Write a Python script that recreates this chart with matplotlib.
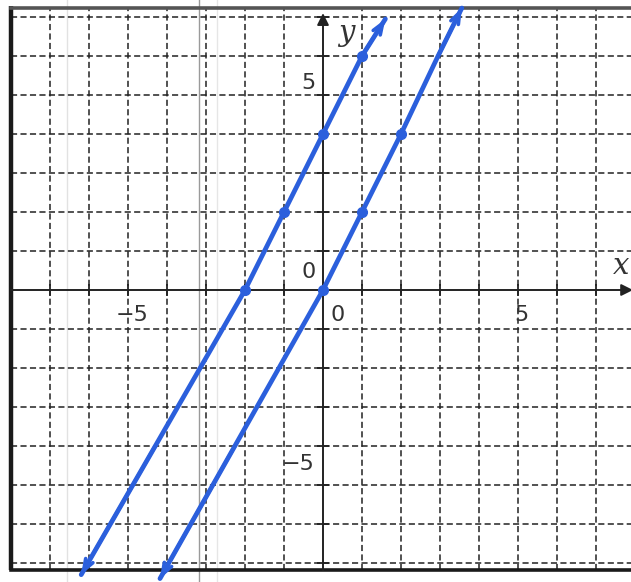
import numpy as np
import matplotlib.pyplot as plt
from matplotlib.lines import Line2D

# points plotted on each line
line_a_x = [-2, -1, 0, 1]
line_a_y = [0, 2, 4, 6]
line_b_x = [0, 1, 2]
line_b_y = [0, 2, 4]

# freehand strokes through those points, out to the edge of the grid
stroke_a_x = [-6.2, -4.3, -2, -1, 0, 1, 1.6]
stroke_a_y = [-7.3, -4, 0, 2, 4, 6, 6.95]
stroke_b_x = [-4.18, -2.26, 0, 1, 2, 2.95, 3.56]
stroke_b_y = [-7.4, -4, 0, 2, 4, 6, 7.23]

grid_ticks = [t for t in range(-7, 8) if t != 0]
x_labels = [(-5, "\u22125"), (0, "0"), (5, "5")]
y_labels = [(5, "5"), (0, "0"), (-5, "\u22125")]

blue = "#2b5fdc"
ink = "#222222"

fig = plt.figure(figsize=(6.31, 5.82), dpi=100)
ax = fig.add_axes([0, 0, 1, 1])
ax.set_xlim(-323 / 39, 308 / 39)
ax.set_ylim(-292 / 39, 290 / 39)
ax.axis("off")

left, top, bottom, right = -8.0, 7.23, -7.18, 8.2

# dashed grid
for t in grid_ticks:
    ax.plot([t, t], [bottom, top], color=ink, lw=1.1, dashes=(4, 2.2), zorder=1)
    ax.plot([left, right], [t, t], color=ink, lw=1.1, dashes=(4, 2.2), zorder=1)

# worksheet border
ax.plot([left, left], [bottom, top + 0.05], color="#1a1a1a", lw=3.2, solid_capstyle="butt", zorder=2)
ax.plot([left, right], [top, top], color="#555555", lw=2.6, zorder=2)
ax.plot([left, right], [bottom, bottom], color="#1a1a1a", lw=2.6, zorder=2)

# axes with arrowheads
axis_arrow = dict(arrowstyle="-|>,head_length=0.7,head_width=0.35",
                  lw=1.4, color=ink, shrinkA=0, shrinkB=0)
ax.annotate("", xy=(0, 7.1), xytext=(0, bottom), arrowprops=axis_arrow,
            annotation_clip=False, zorder=3)
ax.annotate("", xy=(7.95, 0), xytext=(left, 0), arrowprops=axis_arrow,
            annotation_clip=False, zorder=3)
ax.plot(grid_ticks, [0] * len(grid_ticks), ls="none", marker="|", ms=8, mew=1.3, color=ink, zorder=3)
ax.plot([0] * len(grid_ticks), grid_ticks, ls="none", marker="_", ms=8, mew=1.3, color=ink, zorder=3)

# tick labels
for v, s in x_labels:
    dx = 0.38 if v == 0 else 0.1
    ax.text(v + dx, -0.65, s, ha="center", va="center", fontsize=16, color="#333333", zorder=4)
for v, s in y_labels:
    if v == 0:
        continue
    ax.text(-0.38 if v > 0 else -0.65, v + 0.3 if v > 0 else v + 0.55, s,
            ha="center", va="center", fontsize=16, color="#333333", zorder=4)
ax.text(-0.38, 0.47, "0", ha="center", va="center", fontsize=16, color="#333333", zorder=4)

ax.text(0.6, 6.6, "y", ha="center", va="center", fontsize=21, style="italic",
        family="DejaVu Serif", color="#333333", zorder=4)
ax.text(7.65, 0.62, "x", ha="center", va="center", fontsize=21, style="italic",
        family="DejaVu Serif", color="#333333", zorder=4)

# hand drawn lines
for sx, sy in [(stroke_a_x, stroke_a_y), (stroke_b_x, stroke_b_y)]:
    ax.plot(sx, sy, color=blue, lw=3.4, solid_capstyle="round", solid_joinstyle="round", zorder=5)
    for i0, i1 in [(1, 0), (-2, -1)]:
        ax.annotate("", xy=(sx[i1], sy[i1]), xytext=(sx[i0], sy[i0]),
                    arrowprops=dict(arrowstyle="->,head_length=0.8,head_width=0.3",
                                    lw=2.6, color=blue, shrinkA=0, shrinkB=0),
                    annotation_clip=False, zorder=5)

ax.plot(line_a_x, line_a_y, "o", color=blue, ms=7, zorder=6)
ax.plot(line_b_x, line_b_y, "o", color=blue, ms=7, zorder=6)

# faint scanner streaks, kept underneath everything drawn in the axes
for xf, c in [(199 / 631, "#9a9a9a"), (67 / 631, "#e2e2e2"), (217 / 631, "#e6e6e6")]:
    fig.add_artist(Line2D([xf, xf], [0, 1], color=c, lw=1.0, zorder=-1))

fig.savefig("out.png", dpi=100)
